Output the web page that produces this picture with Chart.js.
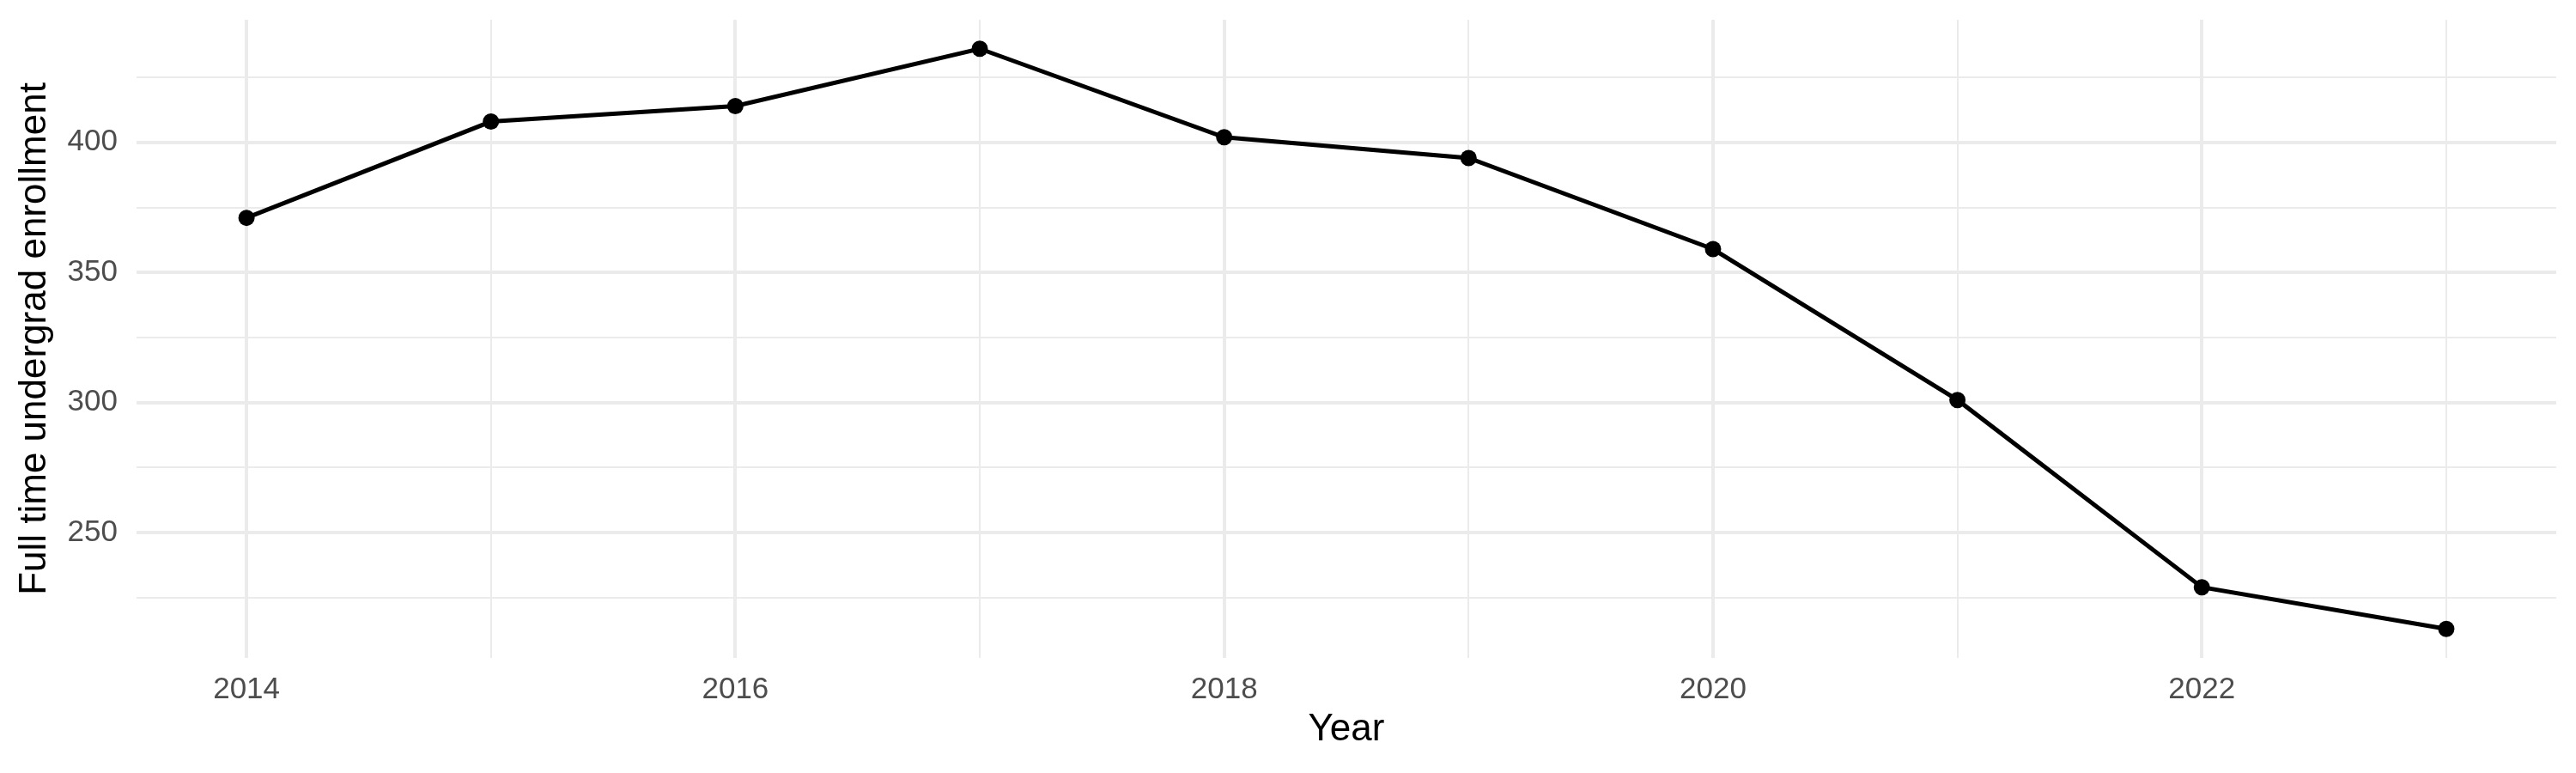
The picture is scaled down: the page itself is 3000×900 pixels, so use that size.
<!DOCTYPE html>
<html>
<head>
<meta charset="utf-8">
<script src="https://cdn.jsdelivr.net/npm/chart.js@4"></script>
<style>
  html, body { margin: 0; padding: 0; background: #fff; }
  #wrap { width: 3000px; height: 900px; }
</style>
</head>
<body>
<div id="wrap"><canvas id="myChart"></canvas></div>
<script>
"use strict";

// Data
const years = [2014, 2015, 2016, 2017, 2018, 2019, 2020, 2021, 2022, 2023];
const enrollment = [371, 408, 414, 436, 402, 394, 359, 301, 229, 213];

// Tick values (majors get labels, minors only a gridline)
const xTicks = [2014, 2015, 2016, 2017, 2018, 2019, 2020, 2021, 2022, 2023];
const xLabelled = [2014, 2016, 2018, 2020, 2022];
const yTicks = [225, 250, 275, 300, 325, 350, 375, 400, 425];
const yLabelled = [250, 300, 350, 400];

const gridColor = "#EBEBEB";
const tickColor = "#4D4D4D";
const fontFamily = "'Liberation Sans', Arial, Helvetica, sans-serif";

const ctx = document.getElementById("myChart").getContext("2d");

// drop the extra room Chart.js keeps for half a tick label at the ends
function noEndPadding(scale) {
    scale.paddingTop = 0;
    scale.paddingBottom = 0;
    scale.paddingLeft = 0;
    scale.paddingRight = 0;
}

let data = {
    datasets: [{
        label: "Full time undergrad enrollment",
        data: years.map((y, i) => ({ x: y, y: enrollment[i] })),
        borderColor: "#000000",
        backgroundColor: "#000000",
        borderWidth: 5,
        pointRadius: 9.5,
        pointBorderWidth: 0,
        pointBackgroundColor: "#000000",
        tension: 0
    }]
};

let config = {
    type: "line",
    data: data,
    options: {
        responsive: false,
        animation: false,
        layout: {
            padding: { top: 23, right: 23, bottom: 0, left: 0 }
        },
        plugins: {
            legend: { display: false },
            tooltip: { enabled: false }
        },
        scales: {
            x: {
                type: "linear",
                min: 2013.55,
                max: 2023.45,
                afterBuildTicks: scale => {
                    scale.ticks = xTicks.map(v => ({ value: v }));
                },
                afterFit: scale => {
                    scale.height = 134;
                    noEndPadding(scale);
                },
                border: { display: false },
                grid: {
                    color: gridColor,
                    drawTicks: false,
                    lineWidth: c => xLabelled.includes(c.tick && c.tick.value) ? 4 : 2
                },
                ticks: {
                    autoSkip: false,
                    maxRotation: 0,
                    padding: 16,
                    color: tickColor,
                    font: { family: fontFamily, size: 35 },
                    callback: v => xLabelled.includes(v) ? String(v) : ""
                },
                title: {
                    display: true,
                    text: "Year",
                    color: "#000000",
                    font: { family: fontFamily, size: 44 },
                    padding: { top: 0, bottom: 24 }
                }
            },
            y: {
                min: 201.85,
                max: 447.15,
                afterBuildTicks: scale => {
                    scale.ticks = yTicks.map(v => ({ value: v }));
                },
                afterFit: scale => {
                    scale.width = 159;
                    noEndPadding(scale);
                },
                border: { display: false },
                grid: {
                    color: gridColor,
                    drawTicks: false,
                    lineWidth: c => yLabelled.includes(c.tick && c.tick.value) ? 4 : 2
                },
                ticks: {
                    autoSkip: false,
                    padding: 22,
                    color: tickColor,
                    font: { family: fontFamily, size: 35 },
                    callback: v => yLabelled.includes(v) ? String(v) : ""
                },
                title: {
                    display: true,
                    text: "Full time undergrad enrollment",
                    color: "#000000",
                    font: { family: fontFamily, size: 44 },
                    padding: { top: 14, bottom: 0 }
                }
            }
        }
    }
};

const canvas = document.getElementById("myChart");
canvas.width = 3000;
canvas.height = 900;
canvas.style.width = "3000px";
canvas.style.height = "900px";

let myChart = new Chart(ctx, config);
</script>
</body>
</html>
